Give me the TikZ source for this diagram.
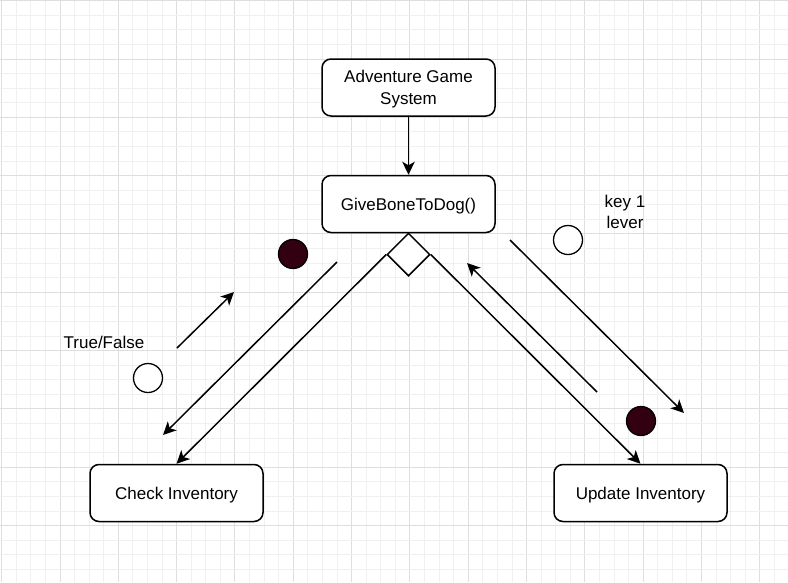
\documentclass[tikz,border=0pt]{standalone}
\usepackage{fontspec}
\setmainfont{Liberation Sans}
\usetikzlibrary{arrows.meta,shapes.geometric}
\definecolor{dotfill}{RGB}{51,0,17}
\definecolor{gridminor}{RGB}{240,240,240}
\definecolor{gridmajor}{RGB}{222,222,222}
\begin{document}
\begin{tikzpicture}[x=1pt,y=-1pt,
  box/.style={draw=black, line width=1.5pt, rounded corners=9pt, fill=white,
    minimum width=173pt, minimum height=57pt, inner sep=0pt, align=center,
    font=\fontsize{17}{21.5}\selectfont, text depth=0pt},
  lbl/.style={align=center, inner sep=0pt, font=\fontsize{17}{21}\selectfont},
  conn/.style={line width=1.5pt, -{Stealth[length=13pt,width=12.5pt,inset=3.5pt]}},
  darkdot/.style={circle, draw=black, line width=1.3pt, fill=dotfill, minimum size=29pt, inner sep=0pt},
  whitedot/.style={circle, draw=black, line width=1.3pt, fill=white, minimum size=29pt, inner sep=0pt}
]
\useasboundingbox (0,0) rectangle (788,582);
\fill[white] (0,0) rectangle (788,582);
% grid
\foreach \k in {0,...,54}{
  \pgfmathsetmacro{\xx}{1.7+14.58*\k}
  \pgfmathtruncatemacro{\m}{mod(\k,4)}
  \ifnum\m=0
    \draw[gridmajor, line width=1pt] (\xx,0) -- (\xx,582);
  \else
    \draw[gridminor, line width=1pt] (\xx,0) -- (\xx,582);
  \fi
}
\foreach \k in {0,...,40}{
  \pgfmathsetmacro{\yy}{0.7+14.58*\k}
  \pgfmathtruncatemacro{\m}{mod(\k,4)}
  \ifnum\m=0
    \draw[gridmajor, line width=1pt] (0,\yy) -- (788,\yy);
  \else
    \draw[gridminor, line width=1pt] (0,\yy) -- (788,\yy);
  \fi
}

% boxes
\node[box] (ags) at (408.5,87.5) {Adventure Game\\System};
\node[box] (gbd) at (408.5,204) {GiveBoneToDog()};
\node[box] (chk) at (176.5,493) {Check Inventory};
\node[box] (upd) at (640.5,493) {Update Inventory};
\node[diamond, draw=black, line width=1.5pt, minimum width=43pt, minimum height=43pt, inner sep=0pt, fill=white] (dia) at (408.5,254.5) {};

% dots
\node[darkdot] (d1) at (293,254) {};
\node[whitedot] (w1) at (148,378) {};
\node[whitedot] (w2) at (568,240) {};
\node[darkdot] (d2) at (641,421) {};

% labels
\node[lbl] (tf) at (104,342) {True/False};
\node[lbl] (kl) at (625,212) {key 1\\lever};

% connectors
\draw[conn] (ags.south) -- (gbd.north);
\draw[conn] (dia.west) -- (chk.north);
\draw[conn] (dia.east) -- (upd.north);

\coordinate (a1s) at (337,262);
\coordinate (a1e) at (163,435);
\coordinate (a2s) at (177,348);
\coordinate (a2e) at (234,292);
\coordinate (a3s) at (597,392);
\coordinate (a3e) at (467,263);
\coordinate (a4s) at (510,240);
\coordinate (a4e) at (684,413);
\draw[conn] (a1s) -- (a1e);
\draw[conn] (a2s) -- (a2e);
\draw[conn] (a3s) -- (a3e);
\draw[conn] (a4s) -- (a4e);
\end{tikzpicture}
\end{document}
